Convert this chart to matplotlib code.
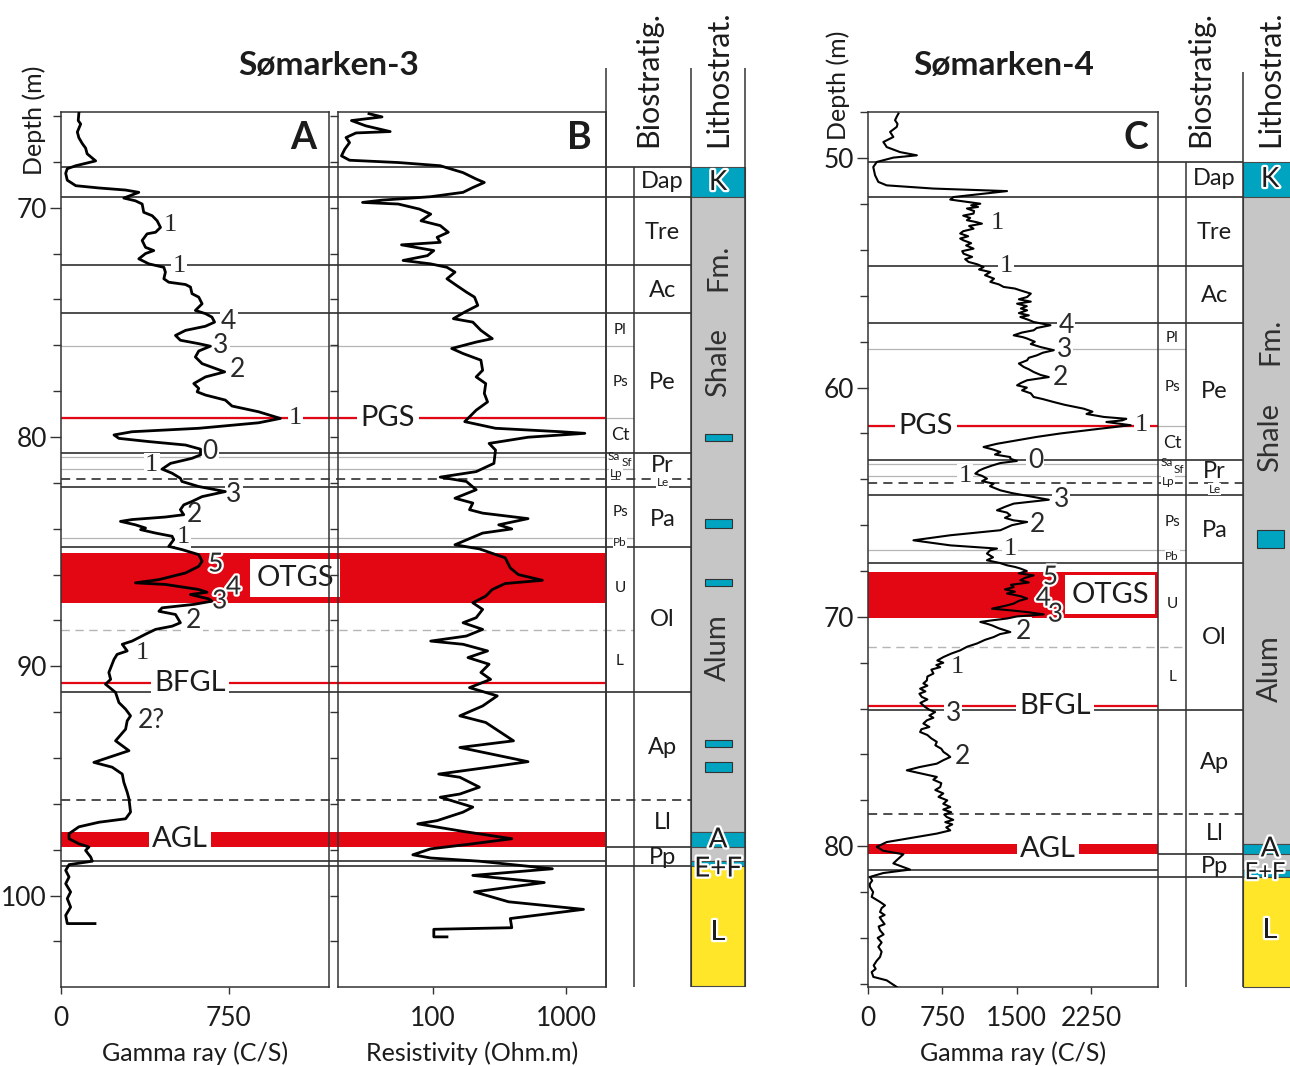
import matplotlib
matplotlib.use("Agg")
import matplotlib.pyplot as plt
import matplotlib.patheffects as pe
from matplotlib.patches import Rectangle
from matplotlib.ticker import FixedLocator, NullLocator

plt.rcParams['font.family'] = ['Lato', 'DejaVu Sans']

# ---------------------------------------------------------------- data
# Sømarken-3, gamma ray (depth in m, counts per second)
s3_gr_depth = [65.87, 66.2, 66.35, 66.7, 66.95, 67.2, 67.4, 67.65, 67.96, 68.17, 68.3, 68.5, 68.8, 69.04,
               69.14, 69.23, 69.33, 69.58, 69.7, 69.84, 70.2, 70.35, 70.57, 70.86, 71.07, 71.14, 71.43,
               71.73, 71.87, 72.0, 72.23, 72.45, 72.6, 72.81, 73.1, 73.25, 73.35, 73.46, 73.75, 73.9,
               74.19, 74.48, 74.62, 74.77, 74.99, 75.17, 75.35, 75.57, 75.78, 75.93, 76.04, 76.25, 76.51,
               76.8, 77.16, 77.38, 77.67, 77.88, 78.03, 78.17, 78.39, 78.65, 78.9, 79.19, 79.38, 79.62,
               79.77, 79.91, 80.06, 80.2, 80.35, 80.53, 80.78, 80.93, 81.15, 81.4, 81.58, 81.8, 81.94,
               82.16, 82.38, 82.6, 82.81, 82.96, 83.17, 83.39, 83.49, 83.6, 83.68, 83.83, 83.97, 84.04,
               84.19, 84.33, 84.48, 84.77, 84.91, 85.13, 85.42, 85.64, 85.93, 86.22, 86.36, 86.43, 86.65,
               86.77, 86.87, 87.06, 87.16, 87.3, 87.45, 87.6, 87.74, 88.1, 88.25, 88.39, 88.6, 88.9,
               89.04, 89.33, 89.48, 89.7, 90.27, 90.57, 90.78, 91.14, 91.58, 91.87, 92.16, 92.38, 92.74,
               93.25, 93.68, 93.97, 94.19, 94.4, 94.7, 95.06, 95.49, 95.78, 96.36, 96.65, 96.8, 97.0,
               97.3, 97.52, 97.74, 97.88, 98.03, 98.32, 98.5, 98.65, 98.9, 99.19, 99.48, 99.84, 100.13,
               100.5, 100.86, 101.22, 101.22]
s3_gr_cps = [80, 77, 88, 73, 80, 95, 110, 117, 155, 66, 28, 21, 28, 66,
             170, 289, 348, 281, 333, 363, 370, 408, 430, 445, 423, 385, 363,
             378, 415, 378, 348, 393, 460, 467, 460, 482, 557, 579, 586, 616,
             631, 601, 646, 675, 687, 646, 557, 512, 534, 616, 668, 616, 601,
             631, 732, 646, 594, 616, 609, 646, 735, 765, 884, 981, 884, 616,
             318, 237, 259, 393, 557, 624, 624, 586, 490, 452, 497, 534, 541,
             616, 735, 631, 586, 549, 534, 549, 467, 318, 266, 333, 378, 356,
             423, 497, 504, 482, 541, 616, 631, 616, 557, 438, 333, 467, 616,
             653, 579, 661, 675, 594, 452, 438, 512, 534, 497, 423, 378, 318,
             274, 296, 251, 237, 214, 222, 199, 244, 259, 289, 311, 296, 289,
             244, 304, 214, 147, 229, 274, 281, 296, 304, 311, 289, 170, 80,
             36, 36, 80, 125, 110, 133, 140, 36, 21, 36, 21, 43, 28,
             43, 21, 28, 152]

# Sømarken-3, resistivity (depth in m, ohm.m)
s3_res_depth = [65.9, 66.04, 66.2, 66.43, 66.68, 66.74, 66.94, 67.16, 67.45, 67.74, 67.93, 68.03, 68.17,
                68.47, 68.75, 68.9, 69.12, 69.33, 69.52, 69.67, 69.77, 69.84, 70.06, 70.28, 70.57, 70.78,
                71.07, 71.29, 71.51, 71.62, 71.87, 72.09, 72.3, 72.45, 72.6, 72.81, 73.1, 73.39, 73.68,
                73.9, 74.26, 74.55, 74.84, 74.99, 75.35, 75.71, 75.86, 76.14, 76.36, 76.65, 77.09, 77.38,
                77.67, 78.1, 78.47, 78.83, 79.33, 79.62, 79.77, 79.84, 80.01, 80.28, 80.57, 81.15, 81.51,
                81.75, 81.94, 82.3, 82.67, 82.88, 83.17, 83.32, 83.56, 83.83, 84.01, 84.19, 84.7, 84.88,
                85.27, 85.71, 86.0, 86.25, 86.39, 86.65, 86.94, 87.23, 87.52, 87.88, 88.1, 88.39, 88.68,
                88.9, 89.04, 89.33, 89.62, 89.91, 90.27, 90.57, 90.93, 91.29, 91.73, 92.16, 92.45, 93.25,
                93.54, 94.16, 94.4, 94.7, 94.84, 95.27, 95.57, 95.71, 96.14, 96.36, 96.73, 96.87, 97.2,
                97.52, 97.74, 97.96, 98.22, 98.36, 98.5, 98.83, 99.12, 99.43, 99.84, 100.27, 100.6, 101.0,
                101.4, 101.47, 101.8, 101.8]
s3_res_ohmm = [33.3, 41.7, 24.6, 31.5, 48, 26.6, 22.4, 23.8, 21.9, 20.7, 23.8, 55.2, 114,
               169, 212, 244, 200, 169, 96.7, 41.7, 29.8, 55.2, 79.5, 96.7, 81.8, 114,
               131, 108, 114, 58.4, 102, 91.4, 60, 96.7, 128, 147, 128, 151, 179,
               206, 218, 174, 143, 200, 230, 280, 212, 139, 169, 230, 237, 212,
               250, 244, 258, 212, 174, 296, 910, 1384, 519, 265, 296, 288, 212,
               114, 179, 212, 147, 200, 189, 237, 519, 313, 392, 237, 147, 224,
               350, 382, 439, 665, 350, 280, 250, 200, 237, 212, 169, 237, 179,
               96.7, 169, 258, 184, 265, 230, 272, 189, 305, 237, 160, 250, 404,
               160, 519, 265, 111, 160, 224, 160, 114, 200, 169, 108, 77.3, 169,
               392, 200, 96.7, 71, 96.7, 224, 790, 200, 687, 206, 371, 1353, 382,
               392, 102, 102, 128]

# Sømarken-4, gamma ray (depth in m, counts per second)
s4_gr_depth = [48.05, 48.2, 48.34, 48.5, 48.63, 48.85, 49.07, 49.29, 49.4, 49.51, 49.73, 49.87, 49.97,
               50.16, 50.38, 50.74, 51.03, 51.18, 51.32, 51.43, 51.69, 51.8, 51.9, 51.98, 52.05, 52.12,
               52.19, 52.3, 52.41, 52.5, 52.6, 52.7, 52.78, 52.85, 52.95, 53.07, 53.18, 53.28, 53.4,
               53.5, 53.58, 53.7, 53.8, 53.94, 54.05, 54.16, 54.3, 54.4, 54.52, 54.62, 54.74, 54.85,
               54.96, 55.1, 55.25, 55.39, 55.5, 55.61, 55.68, 55.76, 55.9, 56.05, 56.15, 56.25, 56.34,
               56.45, 56.55, 56.63, 56.75, 56.85, 56.92, 57.05, 57.14, 57.28, 57.4, 57.5, 57.6, 57.72,
               57.8, 57.86, 58.0, 58.1, 58.23, 58.37, 58.48, 58.59, 58.7, 58.81, 58.95, 59.1, 59.2,
               59.32, 59.45, 59.54, 59.62, 59.68, 59.8, 59.9, 60.0, 60.12, 60.25, 60.41, 60.5, 60.63,
               60.75, 60.92, 61.05, 61.15, 61.28, 61.36, 61.43, 61.5, 61.64, 61.79, 62.0, 62.15, 62.3,
               62.45, 62.59, 62.7, 62.81, 62.92, 63.03, 63.1, 63.2, 63.29, 63.4, 63.53, 63.62, 63.75,
               63.85, 63.97, 64.08, 64.19, 64.3, 64.48, 64.6, 64.77, 64.89, 65.06, 65.2, 65.35, 65.45,
               65.57, 65.68, 65.79, 65.86, 66.0, 66.22, 66.44, 66.66, 66.88, 67.02, 67.1, 67.24, 67.4,
               67.53, 67.65, 67.75, 67.82, 67.89, 68.0, 68.1, 68.19, 68.3, 68.4, 68.5, 68.6, 68.7,
               68.8, 68.9, 68.98, 69.1, 69.2, 69.3, 69.42, 69.52, 69.64, 69.72, 69.79, 69.89, 69.98,
               70.07, 70.15, 70.22, 70.3, 70.37, 70.5, 70.66, 70.75, 70.88, 71.0, 71.16, 71.3, 71.46,
               71.6, 71.75, 71.9, 72.0, 72.1, 72.19, 72.3, 72.47, 72.6, 72.77, 72.9, 73.0, 73.13,
               73.25, 73.35, 73.49, 73.6, 73.75, 73.93, 74.05, 74.15, 74.3, 74.4, 74.51, 74.65, 74.8,
               74.9, 75.02, 75.15, 75.3, 75.45, 75.6, 75.75, 75.89, 76.0, 76.11, 76.25, 76.4, 76.55,
               76.69, 76.85, 76.98, 77.1, 77.25, 77.42, 77.55, 77.7, 77.85, 78.0, 78.15, 78.29, 78.4,
               78.52, 78.62, 78.73, 78.85, 78.95, 79.05, 79.18, 79.31, 79.45, 79.67, 79.82, 80.03, 80.2,
               80.35, 80.61, 80.75, 81.02, 81.17, 81.34, 81.5, 81.65, 81.78, 82.0, 82.21, 82.43, 82.58,
               82.7, 82.87, 83.0, 83.1, 83.23, 83.4, 83.5, 83.67, 83.85, 84.0, 84.2, 84.39, 84.6,
               84.83, 85.0, 85.2, 85.35, 85.49, 85.7, 85.85, 86.14]
s4_gr_cps = [309, 290, 275, 300, 292, 225, 258, 157, 175, 191, 326, 494, 258,
             91, 56, 74, 107, 191, 661, 1401, 863, 830, 998, 1132, 1040, 1110,
             998, 1070, 1064, 960, 1030, 998, 1090, 1149, 1020, 1064, 960, 930, 1010,
             930, 964, 1040, 990, 1064, 950, 964, 1050, 980, 1014, 1100, 1165, 1120,
             1233, 1180, 1270, 1233, 1320, 1367, 1480, 1535, 1640, 1603, 1520, 1640, 1502,
             1600, 1540, 1603, 1520, 1620, 1535, 1620, 1669, 1838, 1700, 1669, 1550, 1468,
             1560, 1603, 1680, 1640, 1737, 1871, 1760, 1703, 1620, 1603, 1520, 1569, 1620,
             1669, 1740, 1821, 1700, 1603, 1540, 1502, 1600, 1552, 1640, 1669, 1760, 1871,
             1980, 2173, 2260, 2200, 2375, 2600, 2560, 2400, 2644, 2342, 1938, 1700, 1502,
             1300, 1165, 1260, 1334, 1280, 1434, 1434, 1500, 1334, 1250, 1165, 1120, 1082,
             1150, 1199, 1150, 1266, 1230, 1334, 1450, 1669, 1821, 1468, 1380, 1300, 1400,
             1434, 1380, 1468, 1603, 1450, 1334, 830, 460, 830, 1300, 1230, 1199, 1260,
             1199, 1330, 1401, 1480, 1535, 1600, 1520, 1669, 1580, 1535, 1620, 1440, 1468,
             1380, 1480, 1401, 1540, 1603, 1520, 1468, 1380, 1250, 1450, 1603, 1770, 1500,
             1401, 1250, 1132, 1200, 1250, 1320, 1434, 1330, 1266, 1180, 1099, 1000, 930,
             840, 762, 700, 760, 690, 729, 640, 661, 600, 595, 560, 600, 527,
             580, 520, 544, 600, 530, 578, 620, 678, 620, 660, 595, 560, 620,
             540, 527, 600, 640, 695, 680, 740, 762, 800, 830, 760, 695, 520,
             393, 560, 695, 660, 740, 729, 680, 760, 712, 800, 760, 830, 760,
             840, 770, 796, 860, 780, 850, 790, 830, 695, 393, 191, 91, 157,
             359, 292, 258, 426, 157, 23, 45, 20, 23, 55, 40, 124, 174,
             140, 124, 170, 120, 141, 170, 110, 124, 160, 100, 140, 107, 140,
             124, 90, 60, 80, 40, 57, 191, 292]

# Stratigraphic boundaries (depth in m) and their type
s3_bound_depth = [68.23, 69.53, 72.50, 74.59, 76.03, 79.17, 80.68, 80.87, 81.40, 81.83, 82.19,
                  84.40, 84.80, 88.40, 91.13, 95.82, 97.88, 98.48, 98.71]
s4_bound_depth = [50.15, 51.68, 54.70, 57.17, 58.33, 61.68, 63.16, 63.34, 63.86, 64.18, 64.69,
                  67.09, 67.64, 71.30, 74.04, 78.61, 80.35, 81.02, 81.34]
bound_kind = ['major', 'major', 'major', 'major', 'sub', 'sub', 'major', 'thin', 'sub', 'dashed', 'major',
              'sub', 'major', 'subdash', 'major', 'dashed', 'bio', 'panel', 'major']

# Key marker horizons (gamma-ray peaks)
key_name = ['PGS', 'OTGS', 'BFGL', 'AGL']
s3_key_top = [79.17, 85.07, 90.75, 97.22]
s3_key_base = [79.17, 87.23, 90.75, 97.88]
s4_key_top = [61.68, 68.04, 73.88, 79.92]
s4_key_base = [61.68, 70.03, 73.88, 80.35]

# Biozones
zone_name = ['Dap', 'Tre', 'Ac', 'Pe', 'Pr', 'Pa', 'Ol', 'Ap', 'Ll', 'Pp']
s3_zone_depth = [68.84, 71.06, 73.59, 77.64, 81.26, 83.58, 87.98, 93.56, 96.83, 98.36]
s4_zone_depth = [50.90, 53.22, 56.00, 60.19, 63.64, 66.22, 70.88, 76.33, 79.43, 80.87]
subzone_name = ['Pl', 'Ps', 'Ct', 'Ps', 'U', 'L']
s3_subzone_depth = [75.33, 77.60, 79.91, 83.27, 86.59, 89.77]
s4_subzone_depth = [57.84, 59.98, 62.42, 65.87, 69.45, 72.63]
tiny_name = ['Sa', 'Sf', 'Lp', 'Pb', 'Le']
s3_tiny_depth = [80.83, 81.13, 81.57, 84.62, 82.00]
s4_tiny_depth = [63.25, 63.56, 64.08, 67.35, 64.43]

# Lithostratigraphy
litho_type = ['limestone', 'shale', 'limestone', 'shale', 'limestone', 'sandstone']
s3_litho_top = [68.23, 69.53, 97.22, 97.88, 98.48, 98.71]
s3_litho_base = [69.53, 97.22, 97.88, 98.48, 98.71, 103.94]
s4_litho_top = [50.15, 51.68, 79.92, 80.35, 81.02, 81.34]
s4_litho_base = [51.68, 79.92, 80.35, 81.02, 81.34, 86.14]
s3_conc_depth = [80.04, 83.79, 86.36, 93.38, 94.38]
s3_conc_thick = [0.30, 0.40, 0.30, 0.30, 0.45]
s4_conc_depth = [66.61]
s4_conc_thick = [0.80]
unit_name = ['K', 'Fm.', 'Shale', 'Alum', 'A', 'E+F', 'L']
s3_unit_depth = [68.88, 72.60, 76.74, 89.20, 97.55, 98.82, 101.60]
s4_unit_depth = [50.90, 58.00, 62.16, 72.24, 80.10, 81.15, 83.67]

# Gamma-ray peak numbering
s3_mark_text = ['1', '1', '4', '3', '2', '1', '0', '1', '3', '2', '1', '5', '4', '3', '2', '1', '2?']
s3_mark_cps = [487, 527, 750, 714, 790, 1049, 665, 406, 772, 598, 545, 692, 772, 710, 594, 362, 406]
s3_mark_depth = [70.75, 72.54, 74.95, 76.03, 77.04, 79.17, 80.65, 81.22, 82.49, 83.40, 84.36,
                 85.54, 86.54, 87.15, 88.02, 89.41, 92.38]
s4_mark_text = ['1', '1', '4', '3', '2', '1', '0', '1', '3', '2', '1', '5', '4', '3', '2', '1', '3', '2']
s4_mark_cps = [1303, 1394, 1998, 1978, 1938, 2755, 1686, 981, 1948, 1706, 1434, 1837, 1767, 1888,
               1565, 900, 860, 950]
s4_mark_depth = [52.82, 54.70, 57.27, 58.36, 59.54, 61.63, 63.16, 63.86, 64.86, 65.95, 67.04,
                 68.26, 69.18, 69.88, 70.62, 72.19, 74.20, 76.08]

# ---------------------------------------------------------------- styling
W, H = 1290, 1066
PX_PER_M = 22.93
PANEL_TOP, PANEL_BOT = 112, 987
INK = '#1c1c1c'
SPINE = '#333333'
RED = '#e30613'
GREY_LINE = '#b5b5b5'
LITHO_COLOR = {'limestone': '#00a4c1', 'shale': '#c6c6c6', 'sandstone': '#ffe629'}
WHITE_EDGE = [pe.withStroke(linewidth=3.2, foreground='white')]
TICK_SIZE = 19
LABEL_SIZE = 18

fig = plt.figure(figsize=(W / 100, H / 100), dpi=100)


def px_box(x0, x1, y0, y1):
    return [x0 / W, 1 - y1 / H, (x1 - x0) / W, (y1 - y0) / H]


def style_depth_axes(ax, major, minor, labels):
    ax.patch.set_visible(False)
    for s in ax.spines.values():
        s.set_color(SPINE)
        s.set_linewidth(1.1)
    ax.yaxis.set_major_locator(FixedLocator(major))
    ax.yaxis.set_minor_locator(FixedLocator(minor))
    ax.xaxis.set_minor_locator(NullLocator())
    ax.tick_params(axis='y', which='major', direction='out', length=8 if labels else 5.5,
                   width=1, color=SPINE, labelsize=TICK_SIZE, pad=2, labelleft=labels,
                   labelcolor=INK)
    ax.tick_params(axis='y', which='minor', direction='out', length=5.5, width=1, color=SPINE)
    ax.tick_params(axis='x', which='major', direction='out', length=5, width=1, color=SPINE,
                   labelsize=TICK_SIZE, pad=9, labelcolor=INK)


def draw_well(L, bounds, keys, zones, subzones, tiny, litho, conc, units):
    depth = lambda y: L['ref_d'] + (y - L['ref_y']) / PX_PER_M
    x_pan0 = L['panel_x0']
    x_sub0, x_sub1 = L['sub']
    x_main1 = L['main'][1]
    lx0, lx1 = L['litho']
    lxc = (lx0 + lx1) / 2

    bg = fig.add_axes(px_box(L['bg'][0], L['bg'][1], 60, 1000))
    bg.set_xlim(*L['bg'])
    bg.set_ylim(depth(1000), depth(60))
    bg.axis('off')

    # boundaries
    ends = {'panel': x_sub0, 'sub': x_sub1, 'main': x_main1}
    kinds = {
        'major': (x_pan0, 'main', INK, 1.1, '-'),
        'sub': (x_pan0, 'sub', GREY_LINE, 0.9, '-'),
        'thin': (x_pan0, 'panel', GREY_LINE, 0.9, '-'),
        'dashed': (x_pan0, 'main', INK, 1.1, (0, (6, 4))),
        'subdash': (x_pan0, 'sub', GREY_LINE, 1.0, (0, (6, 4))),
        'panel': (x_pan0, 'panel', INK, 1.1, '-'),
        'bio': (x_sub0, 'main', INK, 1.1, '-'),
    }
    for d, k in zip(*bounds):
        x0, e, c, lw, ls = kinds[k]
        bg.hlines(d, x0, ends[e], colors=c, linewidth=lw, linestyles=ls, zorder=2)

    # vertical column dividers
    y_bottom = depth(PANEL_BOT)
    for x in L['vfull']:
        bg.vlines(x, depth(L['col_top']), y_bottom, colors=SPINE, linewidth=1.1, zorder=2)
    for x in L['vzone']:
        bg.vlines(x, bounds[0][0], y_bottom, colors=SPINE, linewidth=1.1, zorder=2)

    # key horizons
    for name, top, base, lx in zip(key_name, keys[0], keys[1], L['key_x']):
        if top == base:
            bg.hlines(top, x_pan0, x_sub0, colors=RED, linewidth=1.6, zorder=3)
        else:
            bg.add_patch(Rectangle((x_pan0, top), x_sub0 - x_pan0, base - top,
                                   facecolor=RED, edgecolor='none', zorder=3))
        pad = 0.22 if name == 'OTGS' else 0.12
        bg.text(lx, (top + base) / 2, name, ha='center', va='center', fontsize=21, color=INK,
                zorder=6, bbox=dict(boxstyle=f'square,pad={pad}', facecolor='white', edgecolor='none'))

    # biozones
    xm = (x_sub1 + x_main1) / 2
    xs = (x_sub0 + x_sub1) / 2
    for n, d in zip(zone_name, zones):
        bg.text(xm, d, n, ha='center', va='center', fontsize=17, color=INK, zorder=6)
    for n, d in zip(subzone_name, subzones):
        bg.text(xs, d, n, ha='center', va='center', fontsize=13 if n == 'Ct' else 11,
                color=INK, zorder=6)
    tiny_x = {'Sa': x_sub0 + 8, 'Sf': x_sub0 + 21, 'Lp': x_sub0 + 10, 'Pb': xs, 'Le': xm}
    for n, d in zip(tiny_name, tiny):
        bg.text(tiny_x[n], d, n, ha='center', va='center', fontsize=8.5, color=INK, zorder=6,
                bbox=dict(boxstyle='square,pad=0.05', facecolor='white', edgecolor='none')
                if n in ('Lp', 'Pb', 'Le') else None)

    # lithostratigraphy column
    for t, b, kind in zip(litho[0], litho[1], litho_type):
        bg.add_patch(Rectangle((lx0, t), lx1 - lx0, b - t, facecolor=LITHO_COLOR[kind],
                               edgecolor='#4a4a4a', linewidth=0.8, zorder=1))
    for d, th in zip(*conc):
        bg.add_patch(Rectangle((lxc - 13.5, d - th / 2), 27, th, facecolor=LITHO_COLOR['limestone'],
                               edgecolor='#333333', linewidth=0.8, zorder=4))
    for n, d in zip(unit_name, units):
        if n in ('Fm.', 'Shale', 'Alum'):
            bg.text(lxc, d, n, ha='center', va='center', rotation=90, fontsize=21, color='#303030',
                    zorder=6)
        else:
            x, size = L['unit_text'].get(n, (lxc, 20))
            bg.text(x, d, n, ha='center', va='center', fontsize=size, color=INK, zorder=6,
                    path_effects=WHITE_EDGE)

    # headers
    for label, xc in (('Biostratig.', (x_sub0 + x_main1) / 2), ('Lithostrat.', lxc)):
        fig.text(xc / W, 1 - 147 / H, label, rotation=90, ha='center', va='bottom',
                 fontsize=22, color=INK)
    fig.text(L['title_x'] / W, 1 - 66 / H, L['title'], ha='center', va='center',
             fontsize=24, fontweight='bold', color=INK)
    fig.text(L['depth_lbl'][0] / W, 1 - L['depth_lbl'][1] / H, 'Depth (m)', rotation=90,
             ha='center', va='center', fontsize=18, color=INK)
    return bg, depth


def draw_marks(bg, ax, texts, vals, depths, band):
    for t, v, d in zip(texts, vals, depths):
        in_band = band[0] <= d <= band[1]
        kw = dict(ha='center', va='center', transform=ax.transData, zorder=7, color='#2a2a2a',
                  clip_on=False)
        if t == '1':
            kw.update(fontsize=19, family=['Liberation Serif', 'DejaVu Serif'])
        else:
            kw.update(fontsize=19)
        if in_band:
            kw.update(path_effects=WHITE_EDGE)
        else:
            kw.update(bbox=dict(boxstyle='square,pad=0.05', facecolor='white', edgecolor='none'))
        bg.text(v, d, t, **kw)


# ---------------------------------------------------------------- Sømarken-3
L3 = dict(ref_d=70.0, ref_y=207.7, panel_x0=61, sub=(606, 634), main=(634, 691), litho=(691, 745),
          bg=(0, 760), vfull=[606, 691, 745], vzone=[634], col_top=68,
          key_x=[388, 295, 190, 180], title='Sømarken-3', title_x=329, depth_lbl=(34, 120),
          unit_text={})
bg3, depth3 = draw_well(L3, (s3_bound_depth, bound_kind), (s3_key_top, s3_key_base),
                        s3_zone_depth, s3_subzone_depth, s3_tiny_depth,
                        (s3_litho_top, s3_litho_base), (s3_conc_depth, s3_conc_thick), s3_unit_depth)

s3_major = [70, 80, 90, 100]
s3_minor = list(range(66, 104, 2))

axA = fig.add_axes(px_box(61, 329.3, PANEL_TOP, PANEL_BOT))
axA.set_ylim(depth3(PANEL_BOT), depth3(PANEL_TOP))
axA.set_xlim(0, 1200)
style_depth_axes(axA, s3_major, s3_minor, True)
axA.set_xticks([0, 750], labels=['0', '750'])
axA.plot(s3_gr_cps, s3_gr_depth, color='black', linewidth=2.0, zorder=5, solid_joinstyle='round')
axA.set_xlabel('Gamma ray (C/S)', fontsize=LABEL_SIZE, color=INK, labelpad=7)
axA.text(0.95, 0.97, 'A', transform=axA.transAxes, ha='right', va='center', fontsize=27,
         fontweight='bold', color=INK)

axB = fig.add_axes(px_box(338.3, 606, PANEL_TOP, PANEL_BOT))
axB.set_ylim(depth3(PANEL_BOT), depth3(PANEL_TOP))
axB.set_xscale('log')
axB.set_xlim(19.6, 1995)
style_depth_axes(axB, s3_major, s3_minor, False)
axB.set_xticks([100, 1000], labels=['100', '1000'])
axB.xaxis.set_minor_locator(NullLocator())
axB.plot(s3_res_ohmm, s3_res_depth, color='black', linewidth=2.0, zorder=5, solid_joinstyle='round')
axB.set_xlabel('Resistivity (Ohm.m)', fontsize=LABEL_SIZE, color=INK, labelpad=7)
axB.text(0.945, 0.97, 'B', transform=axB.transAxes, ha='right', va='center', fontsize=27,
         fontweight='bold', color=INK)

draw_marks(bg3, axA, s3_mark_text, s3_mark_cps, s3_mark_depth, (s3_key_top[1], s3_key_base[1]))

# ---------------------------------------------------------------- Sømarken-4
L4 = dict(ref_d=50.0, ref_y=158.3, panel_x0=867.7, sub=(1158.3, 1186), main=(1186, 1243),
          litho=(1243, 1297), bg=(760, 1290), vfull=[1243], vzone=[1186], col_top=72,
          key_x=[926, 1110, 1055, 1048], title='Sømarken-4', title_x=1004, depth_lbl=(838, 85),
          unit_text={'E+F': (1265, 17)})
bg4, depth4 = draw_well(L4, (s4_bound_depth, bound_kind), (s4_key_top, s4_key_base),
                        s4_zone_depth, s4_subzone_depth, s4_tiny_depth,
                        (s4_litho_top, s4_litho_base), (s4_conc_depth, s4_conc_thick), s4_unit_depth)

axC = fig.add_axes(px_box(867.7, 1158.3, PANEL_TOP, PANEL_BOT))
axC.set_ylim(depth4(PANEL_BOT), depth4(PANEL_TOP))
axC.set_xlim(0, 2922)
style_depth_axes(axC, [50, 60, 70, 80], list(range(48, 87, 2)), True)
axC.set_xticks([0, 750, 1500, 2250], labels=['0', '750', '1500', '2250'])
axC.plot(s4_gr_cps, s4_gr_depth, color='black', linewidth=1.5, zorder=5)
axC.set_xlabel('Gamma ray (C/S)', fontsize=LABEL_SIZE, color=INK, labelpad=7)
axC.text(0.965, 0.97, 'C', transform=axC.transAxes, ha='right', va='center', fontsize=27,
         fontweight='bold', color=INK)

draw_marks(bg4, axC, s4_mark_text, s4_mark_cps, s4_mark_depth, (s4_key_top[1], s4_key_base[1]))

fig.savefig('out.png', dpi=100, facecolor='white')
